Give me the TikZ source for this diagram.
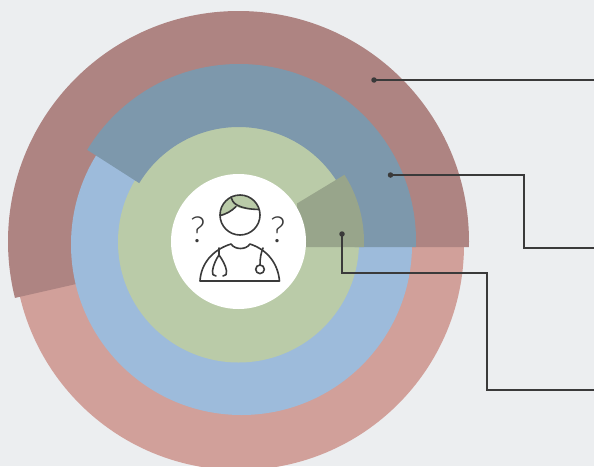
\documentclass[tikz,border=0pt]{standalone}
\usepackage{fontspec}
\setmainfont{Liberation Sans}
\newfontfamily\qfont{Lato Light}
\definecolor{bgc}{HTML}{ECEEF0}
\definecolor{darkred}{HTML}{AE8482}
\definecolor{pinkc}{HTML}{D1A09A}
\definecolor{bluec}{HTML}{9DBBDB}
\definecolor{slatec}{HTML}{7D98AC}
\definecolor{greenc}{HTML}{BACBA8}
\definecolor{wedgec}{HTML}{98A58B}
\definecolor{inkc}{HTML}{3A3A3A}
\tikzset{
  leader/.style={draw=inkc,line width=1.7pt},
  dotnode/.style={circle,fill=inkc,inner sep=0pt,minimum size=5.5pt},
  icon/.style={draw=inkc,line width=1.6pt,line cap=round,line join=round},
  qmark/.style={text=inkc,font=\qfont\fontsize{36}{36}\selectfont,inner sep=0pt}
}
\begin{document}
\begin{tikzpicture}[x=1pt,y=1pt]
\useasboundingbox (0,-466) rectangle (594,0);
\fill[bgc] (0,-466) rectangle (594,0);
\begin{scope}
\clip (0,-466) rectangle (594,0);
\fill[pinkc] (239,-245) circle (225);
\begin{scope}
\clip (239,-247) -- (900,-247) -- (900,300) -- (-300,300) -- (-300,-247-122.5) -- cycle;
\fill[darkred] (238.5,-241.5) circle (230.5);
\end{scope}
\fill[bluec] (241.5,-244.5) circle (170.5);
\fill[greenc] (238.5,-242) circle (120.5);
\begin{scope}
\clip (239,-247) -- (900,-247) -- (900,300) -- (-300,300) -- (-300,-247+345) -- cycle;
\fill[slatec,even odd rule] (239,-241) circle (177) (238.6,-243) circle (116);
\end{scope}
\begin{scope}
\clip (297,-203.5) -- (397,-143) -- (500,-143) -- (500,-247) -- (297,-247) -- cycle;
\fill[wedgec] (239,-242) circle (125);
\end{scope}
\fill[white] (238.5,-241.5) circle (67.5);
\end{scope}
% hair
\begin{scope}
\clip (240,-215) circle (20);
\fill[greenc] (219,-215.5) .. controls (226,-214) and (232,-211) .. (236,-206.5)
  .. controls (241,-209) and (250,-210) .. (261,-209.5) -- (261,-194) -- (219,-194) -- cycle;
\end{scope}
\draw[icon] (220.5,-215.5) .. controls (226,-214) and (232,-211) .. (236,-206.5);
\draw[icon] (231,-197) .. controls (232,-203) and (238,-209) .. (259,-209.5);
\node[icon,circle,minimum size=40pt,inner sep=0pt] (head) at (240,-215) {};
% body
\draw[icon] (200,-281) -- (279.5,-281)
  .. controls (278,-264) and (268,-250) .. (250,-244)
  .. controls (246,-250) and (235,-250) .. (231,-244)
  .. controls (212,-250) and (201,-264) .. cycle;
% stethoscope left
\draw[icon] (219,-248) -- (219,-255);
\draw[icon] (223,-276) .. controls (226,-276) and (227,-274) .. (226.5,-271)
  .. controls (226,-266) and (222,-259) .. (219,-255)
  .. controls (216,-259) and (213,-266) .. (212.5,-271)
  .. controls (212,-274) and (213,-276) .. (216,-276);
% stethoscope right
\draw[icon] (263,-248) .. controls (261,-253) and (260,-258) .. (260,-265);
\node[icon,circle,minimum size=8.6pt,inner sep=0pt] (bell) at (260,-269.3) {};
% question marks
\node[qmark] (q1) at (198,-229.5) {?};
\node[qmark] (q2) at (278,-229.5) {?};
% leaders
\node[dotnode] (d1) at (374,-80) {};
\node[dotnode] (d2) at (390.5,-175) {};
\node[dotnode] (d3) at (342,-234) {};
\coordinate (e1) at (594,-80);
\coordinate (e2) at (594,-248);
\coordinate (e3) at (594,-390);
\draw[leader] (d1.center) -- (e1);
\draw[leader] (d2.center) -- (524,-175) -- (524,-248) -- (e2);
\draw[leader] (d3.center) -- (342,-273) -- (487,-273) -- (487,-390) -- (e3);
\end{tikzpicture}
\end{document}
